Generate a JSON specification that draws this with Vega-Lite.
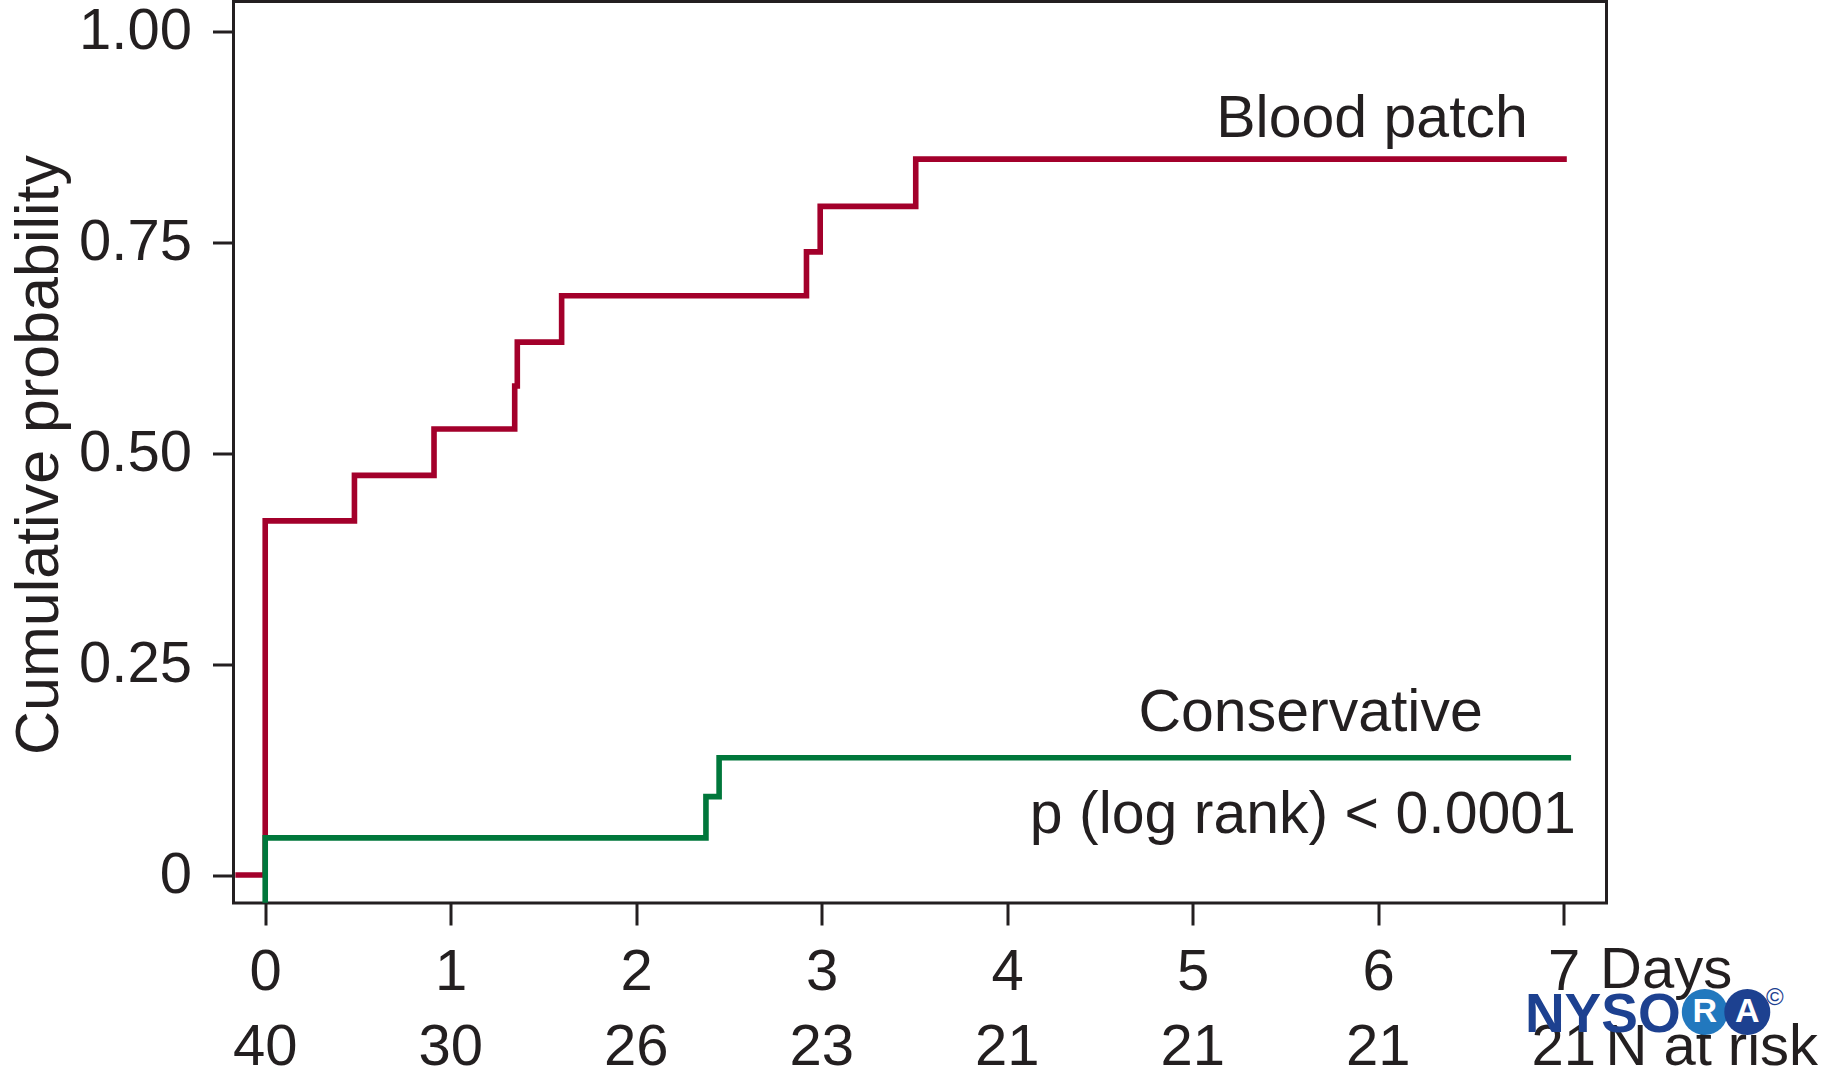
{
  "$schema": "https://vega.github.io/schema/vega-lite/v6.json",
  "width": 1373,
  "height": 901.5,
  "autosize": {"type": "none"},
  "padding": {"left": 233.5, "top": 1.5, "right": 224.5, "bottom": 177},
  "background": "white",
  "config": {
    "view": {"stroke": "#231f20", "strokeWidth": 3},
    "font": "Liberation Sans",
    "text": {"font": "Liberation Sans", "color": "#231f20"}
  },
  "datasets": {
    "curves": [
      {"group": "Blood patch", "seq": 0, "day": -0.161, "prob": 0},
      {"group": "Blood patch", "seq": 1, "day": 0, "prob": 0.42},
      {"group": "Blood patch", "seq": 2, "day": 0.481, "prob": 0.474},
      {"group": "Blood patch", "seq": 3, "day": 0.91, "prob": 0.529},
      {"group": "Blood patch", "seq": 4, "day": 1.345, "prob": 0.58},
      {"group": "Blood patch", "seq": 5, "day": 1.359, "prob": 0.632},
      {"group": "Blood patch", "seq": 6, "day": 1.598, "prob": 0.687},
      {"group": "Blood patch", "seq": 7, "day": 2.918, "prob": 0.739},
      {"group": "Blood patch", "seq": 8, "day": 2.992, "prob": 0.793},
      {"group": "Blood patch", "seq": 9, "day": 3.507, "prob": 0.849},
      {"group": "Blood patch", "seq": 10, "day": 7.017, "prob": 0.849},
      {"group": "Conservative", "seq": 0, "day": 0, "prob": -0.033},
      {"group": "Conservative", "seq": 1, "day": 0, "prob": 0.044},
      {"group": "Conservative", "seq": 2, "day": 2.376, "prob": 0.093},
      {"group": "Conservative", "seq": 3, "day": 2.447, "prob": 0.139},
      {"group": "Conservative", "seq": 4, "day": 7.04, "prob": 0.139}
    ],
    "atrisk": [
      {"day": 0, "n": 40},
      {"day": 1, "n": 30},
      {"day": 2, "n": 26},
      {"day": 3, "n": 23},
      {"day": 4, "n": 21},
      {"day": 5, "n": 21},
      {"day": 6, "n": 21},
      {"day": 7, "n": 21}
    ]
  },
  "layer": [
    {
      "data": {"name": "curves"},
      "mark": {"type": "line", "interpolate": "step-after", "strokeWidth": 5.6},
      "encoding": {
        "x": {
          "field": "day",
          "type": "quantitative",
          "scale": {"domain": [-0.171, 7.231], "nice": false, "zero": false},
          "axis": {
            "values": [0, 1, 2, 3, 4, 5, 6, 7],
            "format": "d",
            "grid": false,
            "domain": false,
            "tickSize": 22,
            "tickWidth": 3,
            "tickColor": "#231f20",
            "labelFontSize": 58,
            "labelColor": "#231f20",
            "labelFont": "Liberation Sans",
            "labelPadding": 64,
            "labelBaseline": "alphabetic",
            "labelFlush": false,
            "labelOverlap": false,
            "title": "Days",
            "titleFont": "Liberation Sans",
            "titleFontSize": 58,
            "titleFontWeight": "normal",
            "titleColor": "#231f20",
            "titleX": 1366,
            "titleY": 84,
            "titleAlign": "left",
            "titleBaseline": "alphabetic"
          }
        },
        "y": {
          "field": "prob",
          "type": "quantitative",
          "scale": {"domain": [-0.0332, 1.036], "nice": false, "zero": false},
          "axis": {
            "values": [0, 0.25, 0.5, 0.75, 1],
            "labelExpr": "datum.value == 0 ? '0' : format(datum.value, '.2f')",
            "grid": false,
            "domain": false,
            "tickSize": 21,
            "tickWidth": 3,
            "tickColor": "#231f20",
            "labelFontSize": 58,
            "labelColor": "#231f20",
            "labelFont": "Liberation Sans",
            "labelPadding": 21,
            "labelBaseline": "middle",
            "labelFlush": false,
            "labelOverlap": false,
            "title": "Cumulative probability",
            "titleFont": "Liberation Sans",
            "titleFontSize": 61,
            "titleFontWeight": "normal",
            "titleColor": "#231f20",
            "titleAngle": -90,
            "titleX": -176.5,
            "titleY": 453,
            "titleAlign": "center",
            "titleBaseline": "alphabetic"
          }
        },
        "color": {
          "field": "group",
          "type": "nominal",
          "scale": {"domain": ["Blood patch", "Conservative"], "range": ["#a3002b", "#00773b"]},
          "legend": null
        },
        "order": {"field": "seq", "type": "quantitative"}
      }
    },
    {
      "data": {"name": "atrisk"},
      "mark": {"type": "text", "fontSize": 58, "baseline": "alphabetic", "align": "center"},
      "encoding": {
        "x": {"field": "day", "type": "quantitative"},
        "y": {"datum": -0.2254, "type": "quantitative"},
        "text": {"field": "n", "type": "quantitative"}
      }
    },
    {
      "data": {"values": [{}]},
      "mark": {"type": "text", "text": "N at risk", "fontSize": 58, "baseline": "alphabetic", "align": "left"},
      "encoding": {
        "x": {"datum": 7.225, "type": "quantitative"},
        "y": {"datum": -0.2254, "type": "quantitative"}
      }
    },
    {
      "data": {"values": [{}]},
      "mark": {"type": "text", "text": "Blood patch", "fontSize": 59, "baseline": "alphabetic", "align": "right"},
      "encoding": {
        "x": {"datum": 6.807, "type": "quantitative"},
        "y": {"datum": 0.8758, "type": "quantitative"}
      }
    },
    {
      "data": {"values": [{}]},
      "mark": {"type": "text", "text": "Conservative", "fontSize": 59, "baseline": "alphabetic", "align": "right"},
      "encoding": {
        "x": {"datum": 6.564, "type": "quantitative"},
        "y": {"datum": 0.1708, "type": "quantitative"}
      }
    },
    {
      "data": {"values": [{}]},
      "mark": {"type": "text", "text": "p (log rank) < 0.0001", "fontSize": 59, "baseline": "alphabetic", "align": "right"},
      "encoding": {
        "x": {"datum": 7.066, "type": "quantitative"},
        "y": {"datum": 0.0502, "type": "quantitative"}
      }
    },
    {
      "data": {"values": [{}]},
      "mark": {"type": "text", "text": "NYSO", "fontSize": 55, "fontWeight": "bold", "baseline": "alphabetic", "align": "left", "color": "#1d4190"},
      "encoding": {
        "x": {"datum": 6.791, "type": "quantitative"},
        "y": {"datum": -0.1862, "type": "quantitative"}
      }
    },
    {
      "data": {"values": [{"letter": "R", "day": 7.761}, {"letter": "A", "day": 7.99}]},
      "mark": {"type": "point", "shape": "circle", "filled": true, "size": 2116, "opacity": 1},
      "encoding": {
        "x": {"field": "day", "type": "quantitative"},
        "y": {"datum": -0.1625, "type": "quantitative"},
        "fill": {"field": "letter", "type": "nominal", "scale": {"domain": ["R", "A"], "range": ["#2278be", "#1d4190"]}, "legend": null}
      }
    },
    {
      "data": {"values": [{"letter": "R", "day": 7.761}, {"letter": "A", "day": 7.99}]},
      "mark": {"type": "text", "fontSize": 34, "fontWeight": "bold", "baseline": "middle", "align": "center", "color": "white"},
      "encoding": {
        "x": {"field": "day", "type": "quantitative"},
        "y": {"datum": -0.1625, "type": "quantitative"},
        "text": {"field": "letter", "type": "nominal"}
      }
    },
    {
      "data": {"values": [{}]},
      "mark": {"type": "text", "text": "©", "fontSize": 24, "baseline": "middle", "align": "center", "color": "#1d4190"},
      "encoding": {
        "x": {"datum": 8.138, "type": "quantitative"},
        "y": {"datum": -0.146, "type": "quantitative"}
      }
    }
  ]
}
